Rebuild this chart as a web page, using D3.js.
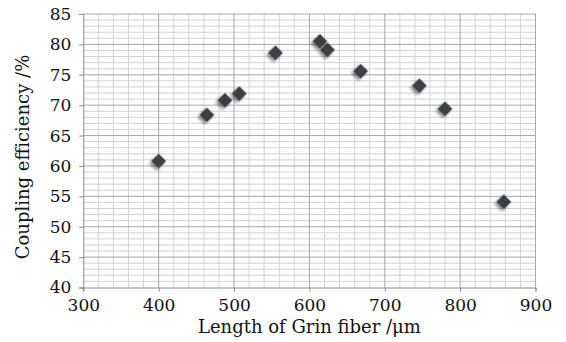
<!DOCTYPE html>
<html><head><meta charset="utf-8">
<script src="https://cdn.jsdelivr.net/npm/d3@7"></script>
<style>
html,body{margin:0;padding:0;background:#fff;}
svg text{font-family:"DejaVu Serif",serif;fill:#111;}
</style></head>
<body>
<svg id="chart" width="566" height="342"></svg>
<script>
const lengths = [400, 464, 488, 507, 555, 614, 624, 668, 746, 780, 858];
const efficiency = [60.8, 68.4, 70.8, 71.9, 78.6, 80.5, 79.1, 75.6, 73.2, 69.4, 54.1];
const xTicks = [300, 400, 500, 600, 700, 800, 900];
const yTicks = [40, 45, 50, 55, 60, 65, 70, 75, 80, 85];
const xTitle = "Length of Grin fiber /μm";
const yTitle = "Coupling efficiency /%";

const svg = d3.select("#chart");
const L = 83.3, R = 535.5, T = 14, B = 287.5;
const x = d3.scaleLinear().domain([300, 900]).range([L, R]);
const y = d3.scaleLinear().domain([40, 85]).range([B, T]);

const defs = svg.append("defs");
const f = defs.append("filter").attr("id", "sh").attr("x", "-50%").attr("y", "-50%").attr("width", "200%").attr("height", "200%");
f.append("feGaussianBlur").attr("in", "SourceAlpha").attr("stdDeviation", 1.6).attr("result", "b");
f.append("feOffset").attr("in", "b").attr("dx", 0).attr("dy", 3).attr("result", "o");
f.append("feComponentTransfer").attr("in", "o").attr("result", "o2")
  .append("feFuncA").attr("type", "linear").attr("slope", 0.45);
const m = f.append("feMerge");
m.append("feMergeNode").attr("in", "o2");
m.append("feMergeNode").attr("in", "SourceGraphic");

// minor grid
const g = svg.append("g");
const xMinor = d3.range(300, 901, 20).filter(v => v % 100 !== 0);
const yMinor = d3.range(40, 85.01, 1).filter(v => v % 5 !== 0);
g.selectAll(".vx").data(xMinor).join("line")
  .attr("x1", d => x(d)).attr("x2", d => x(d)).attr("y1", T).attr("y2", B)
  .attr("stroke", "#d2d2d2").attr("stroke-width", 1);
g.selectAll(".hy").data(yMinor).join("line")
  .attr("x1", L).attr("x2", R).attr("y1", d => y(d)).attr("y2", d => y(d))
  .attr("stroke", "#d2d2d2").attr("stroke-width", 1);
// major grid
g.selectAll(".vX").data(xTicks.slice(1)).join("line")
  .attr("x1", d => x(d)).attr("x2", d => x(d)).attr("y1", T).attr("y2", B)
  .attr("stroke", "#a6a6a6").attr("stroke-width", 1);
g.selectAll(".hY").data(yTicks.slice(1)).join("line")
  .attr("x1", L).attr("x2", R).attr("y1", d => y(d)).attr("y2", d => y(d))
  .attr("stroke", "#a6a6a6").attr("stroke-width", 1);

// axes
const xa = svg.append("g").attr("transform", `translate(0,${B})`)
  .call(d3.axisBottom(x).tickValues(xTicks).tickSize(4).tickPadding(7).tickFormat(d3.format("d")));
const ya = svg.append("g").attr("transform", `translate(${L},0)`)
  .call(d3.axisLeft(y).tickValues(yTicks).tickSize(4).tickPadding(8).tickFormat(d3.format("d")));
[xa, ya].forEach(a => {
  a.select(".domain").attr("stroke", "#8a8a8a");
  a.selectAll(".tick line").attr("stroke", "#8a8a8a");
  a.selectAll("text").attr("font-size", 17).attr("font-family", "DejaVu Serif").attr("fill", "#111");
});

// points
svg.append("g").selectAll("path").data(lengths.map((d, i) => [d, efficiency[i]])).join("path")
  .attr("d", d3.symbol(d3.symbolSquare, 110)())
  .attr("transform", d => `translate(${x(d[0])},${y(d[1])}) rotate(45)`)
  .attr("fill", "#3b4047")
  .attr("filter", "url(#sh)");

// titles
svg.append("text").attr("x", (L + R) / 2).attr("y", 333).attr("text-anchor", "middle")
  .attr("font-size", 18).text(xTitle);
svg.append("text").attr("transform", `translate(29,157) rotate(-90)`)
  .attr("text-anchor", "middle").attr("font-size", 18).text(yTitle);
</script>
</body></html>
